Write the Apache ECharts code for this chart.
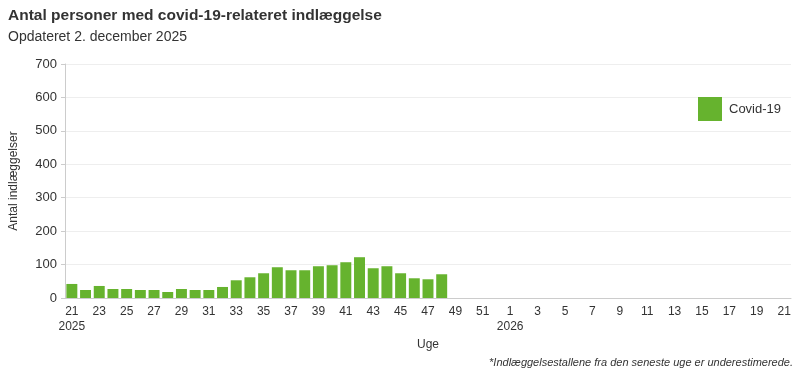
<!DOCTYPE html>
<html><head><meta charset="utf-8">
<script src="https://cdn.jsdelivr.net/npm/echarts@6/dist/echarts.min.js"></script>
<style>html,body{margin:0;padding:0;background:#fff}#c{width:800px;height:375px}</style>
</head><body><div id="c"></div>
<script>
const weeks2025 = [21,22,23,24,25,26,27,28,29,30,31,32,33,34,35,36,37,38,39,40,41,42,43,44,45,46,47,48,49,50,51,52];
const weeks2026 = [1,2,3,4,5,6,7,8,9,10,11,12,13,14,15,16,17,18,19,20,21];
const covidValues = [42,24,36,27,27,24,24,18,27,24,24,33,53,62,74,92,83,83,95,98,107,122,89,95,74,59,56,71];
const yTicks = [0,100,200,300,400,500,600,700];

const categories = weeks2025.map(w => '2025-' + w).concat(weeks2026.map(w => '2026-' + w));
const font = 'Liberation Sans, Arial, sans-serif';
const chart = echarts.init(document.getElementById('c'), null, {renderer:'canvas'});
chart.setOption({
  animation: false,
  textStyle: {fontFamily: font},
  title: [
    {text: 'Antal personer med covid-19-relateret indlæggelse', left: 8, top: 8, padding: 0,
     textStyle: {fontSize: 15.5, fontWeight: 'bold', color: '#333', fontFamily: font}},
    {text: 'Opdateret 2. december 2025', left: 8, top: 30, padding: 0,
     textStyle: {fontSize: 14, fontWeight: 'normal', color: '#333', fontFamily: font}},
    {text: '*Indlæggelsestallene fra den seneste uge er underestimerede.', right: 7, top: 357, padding: 0,
     textStyle: {fontSize: 11, fontStyle: 'italic', fontWeight: 'normal', color: '#333', fontFamily: font}}
  ],
  legend: {
    left: 698, top: 97, padding: 0, icon: 'rect', itemWidth: 24, itemHeight: 24, itemGap: 8,
    textStyle: {fontSize: 13, color: '#333', fontFamily: font, padding: [0, 0, 0, 2]},
    data: ['Covid-19']
  },
  grid: {left: 64, right: 9, top: 64, bottom: 77, containLabel: false},
  xAxis: {
    type: 'category', data: categories,
    name: 'Uge', nameLocation: 'middle', nameGap: 41,
    nameTextStyle: {fontSize: 12, color: '#333'},
    axisLine: {lineStyle: {color: '#ccc'}},
    axisTick: {alignWithLabel: true, interval: 1, length: 5, lineStyle: {color: '#ccc'}},
    axisLabel: {
      interval: 1, fontSize: 12, color: '#333', margin: 6, lineHeight: 15,
      formatter: function (v) {
        const p = v.split('-');
        const y = p[0], w = +p[1];
        if ((y === '2025' && w === weeks2025[0]) || (y === '2026' && w === weeks2026[0])) return w + '\n' + y;
        return '' + w;
      }
    }
  },
  yAxis: {
    type: 'value', min: yTicks[0], max: yTicks[yTicks.length - 1], interval: 100,
    name: 'Antal indlæggelser', nameLocation: 'middle', nameGap: 45,
    nameTextStyle: {fontSize: 12, color: '#333'},
    axisLine: {show: true, lineStyle: {color: '#ccc'}},
    axisTick: {show: true, length: 4, lineStyle: {color: '#ccc'}},
    axisLabel: {fontSize: 13, color: '#333', margin: 8},
    splitLine: {lineStyle: {color: '#eee'}}
  },
  series: [{
    name: 'Covid-19', type: 'bar', data: covidValues,
    barCategoryGap: '20%',
    itemStyle: {color: '#66b32e'}
  }]
});
</script></body></html>
